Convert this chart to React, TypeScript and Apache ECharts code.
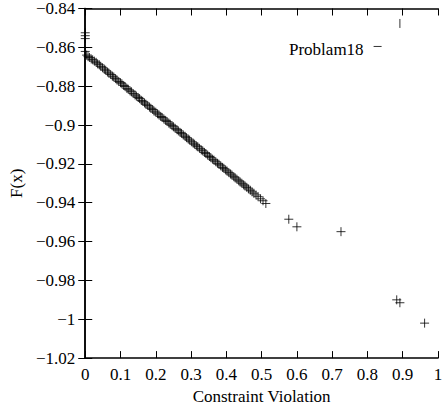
import React, { useEffect, useRef } from "react";
import * as echarts from "echarts";

// Constraint violation (x) and F(x) for the dense band of solutions
const cvBand = [
  0.000, 0.004, 0.008, 0.012, 0.017, 0.021, 0.026, 0.031, 0.035, 0.040,
  0.044, 0.049, 0.054, 0.058, 0.063, 0.067, 0.072, 0.077, 0.081, 0.086,
  0.090, 0.095, 0.100, 0.104, 0.109, 0.113, 0.118, 0.122, 0.127, 0.131,
  0.136, 0.141, 0.145, 0.150, 0.154, 0.159, 0.163, 0.168, 0.172, 0.177,
  0.182, 0.186, 0.191, 0.195, 0.200, 0.205, 0.209, 0.214, 0.218, 0.223,
  0.228, 0.232, 0.237, 0.241, 0.246, 0.250, 0.255, 0.260, 0.264, 0.269,
  0.273, 0.278, 0.283, 0.287, 0.292, 0.296, 0.301, 0.306, 0.310, 0.315,
  0.319, 0.324, 0.329, 0.333, 0.338, 0.342, 0.347, 0.352, 0.356, 0.361,
  0.365, 0.370, 0.375, 0.379, 0.384, 0.389, 0.393, 0.398, 0.402, 0.407,
  0.412, 0.416, 0.421, 0.425, 0.430, 0.435, 0.439, 0.444, 0.449, 0.453,
  0.458, 0.463, 0.468, 0.473, 0.478, 0.484, 0.490, 0.497, 0.504, 0.512,
];
const fBand = [
  -0.8621, -0.8640, -0.8648, -0.8652, -0.8660, -0.8664, -0.8671, -0.8677, -0.8685, -0.8690,
  -0.8698, -0.8705, -0.8712, -0.8718, -0.8727, -0.8733, -0.8740, -0.8748, -0.8753, -0.8761,
  -0.8768, -0.8776, -0.8782, -0.8788, -0.8796, -0.8802, -0.8811, -0.8816, -0.8824, -0.8829,
  -0.8838, -0.8845, -0.8851, -0.8858, -0.8864, -0.8873, -0.8878, -0.8886, -0.8893, -0.8899,
  -0.8907, -0.8914, -0.8920, -0.8928, -0.8934, -0.8942, -0.8948, -0.8956, -0.8961, -0.8969,
  -0.8976, -0.8982, -0.8990, -0.8996, -0.9003, -0.9009, -0.9017, -0.9024, -0.9030, -0.9038,
  -0.9043, -0.9051, -0.9058, -0.9065, -0.9072, -0.9078, -0.9086, -0.9093, -0.9099, -0.9107,
  -0.9112, -0.9120, -0.9128, -0.9133, -0.9141, -0.9147, -0.9155, -0.9162, -0.9168, -0.9176,
  -0.9181, -0.9189, -0.9197, -0.9202, -0.9210, -0.9218, -0.9223, -0.9231, -0.9237, -0.9245,
  -0.9252, -0.9258, -0.9266, -0.9272, -0.9279, -0.9287, -0.9293, -0.9300, -0.9308, -0.9314,
  -0.9321, -0.9329, -0.9336, -0.9344, -0.9351, -0.9360, -0.9369, -0.9380, -0.9390, -0.9404,
];

// Isolated solutions
const cvOther = [0.0, 0.0, 0.0, 0.577, 0.600, 0.725, 0.883, 0.892, 0.962];
const fOther = [-0.8525, -0.8540, -0.8555, -0.9485, -0.9524, -0.9549, -0.9900, -0.9915, -1.0020];

// Point drawn with only its vertical stroke visible
const cvTop = [0.892];
const fTop = [-0.8477];

const xTicks = { min: 0, max: 1, step: 0.1 };
const yTicks = { min: -1.02, max: -0.84, step: 0.02 };

const seriesName = "Problam18";
const xName = "Constraint Violation";
const yName = "F(x)";

const FONT = "Liberation Serif, Times New Roman, serif";
const FS = 17;
const PLUS = "path://M0,5 L10,5 M5,0 L5,10";
const VBAR = "path://M0,0 L0,0 M5,0 L5,10 M10,10 L10,10";
const DASH = "path://M0,0 L0,0 M0,1.2 L10,1.2 M10,10 L10,10";

function fmt(v: number): string {
  const a = parseFloat(Math.abs(v).toFixed(2)).toString();
  return (v < -1e-9 ? "\u2212" : "") + a;
}

export default function App() {
  const ref = useRef<HTMLDivElement>(null);
  useEffect(() => {
    if (!ref.current) return;
    const chart = echarts.init(ref.current, undefined, { renderer: "svg" });
    const data: any[] = [];
    cvBand.forEach((x, i) => data.push([x, fBand[i]]));
    cvOther.forEach((x, i) => data.push([x, fOther[i]]));
    cvTop.forEach((x, i) => data.push({ value: [x, fTop[i]], symbol: VBAR }));

    const axisLine = { show: true, lineStyle: { color: "#000", width: 1.5 } };
    const tick = { show: true, inside: true, length: 7, lineStyle: { color: "#000", width: 1 } };
    const label = { color: "#000", fontFamily: FONT, fontSize: FS };

    chart.setOption({
      animation: false,
      backgroundColor: "#fff",
      textStyle: { fontFamily: FONT },
      grid: { left: 85, right: 9, top: 8, bottom: 49, containLabel: false },
      legend: {
        data: [{ name: seriesName, icon: DASH }],
        left: 289,
        top: 41,
        padding: 0,
        align: "right",
        itemWidth: 8,
        itemHeight: 17,
        textStyle: { color: "#000", fontFamily: FONT, fontSize: FS, padding: [0, 5, 0, 0] },
        itemStyle: { color: "transparent", borderColor: "#000", borderWidth: 1 },
      },
      xAxis: [
        {
          type: "value",
          min: xTicks.min,
          max: xTicks.max,
          interval: xTicks.step,
          position: "bottom",
          name: xName,
          nameLocation: "middle",
          nameGap: 27,
          nameTextStyle: { color: "#000", fontFamily: FONT, fontSize: FS },
          axisLine,
          axisTick: tick,
          axisLabel: { ...label, margin: 8, formatter: fmt },
          splitLine: { show: false },
        },
        {
          type: "value",
          min: xTicks.min,
          max: xTicks.max,
          interval: xTicks.step,
          position: "top",
          axisLine,
          axisTick: tick,
          axisLabel: { show: false },
          splitLine: { show: false },
        },
      ],
      yAxis: [
        {
          type: "value",
          min: yTicks.min,
          max: yTicks.max,
          interval: yTicks.step,
          position: "left",
          name: yName,
          nameLocation: "middle",
          nameGap: 58,
          nameTextStyle: { color: "#000", fontFamily: FONT, fontSize: FS },
          axisLine,
          axisTick: tick,
          axisLabel: { ...label, margin: 10, formatter: fmt },
          splitLine: { show: false },
        },
        {
          type: "value",
          min: yTicks.min,
          max: yTicks.max,
          interval: yTicks.step,
          position: "right",
          axisLine,
          axisTick: tick,
          axisLabel: { show: false },
          splitLine: { show: false },
        },
      ],
      series: [
        {
          name: seriesName,
          type: "scatter",
          xAxisIndex: 0,
          yAxisIndex: 0,
          symbol: PLUS,
          symbolSize: 9,
          itemStyle: { color: "transparent", borderColor: "#000", borderWidth: 1 },
          emphasis: { disabled: true },
          data,
        },
      ],
    });
    return () => chart.dispose();
  }, []);
  return (
    <div
      ref={ref}
      style={{ position: "fixed", left: 0, top: 0, width: 447, height: 410, background: "#fff" }}
    />
  );
}
